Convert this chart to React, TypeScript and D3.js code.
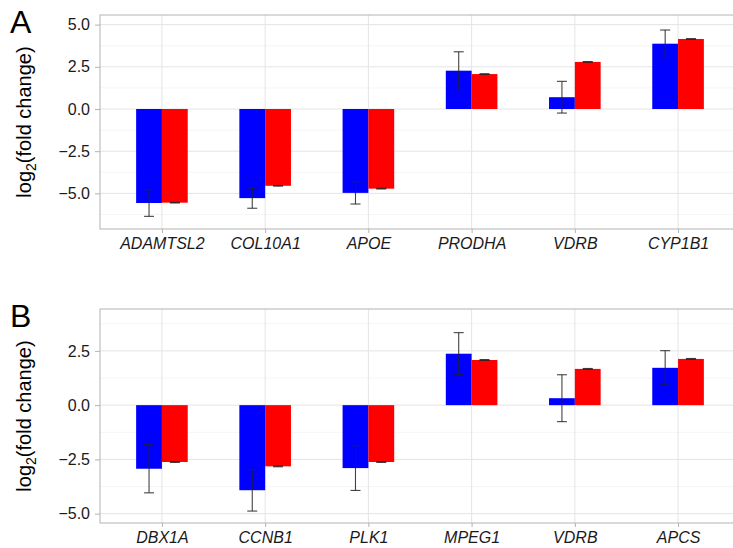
import React, { useEffect, useRef } from 'react';
import * as d3 from 'd3';

// panel A
const genesA = ['ADAMTSL2', 'COL10A1', 'APOE', 'PRODHA', 'VDRB', 'CYP1B1'];
const blueA = [-5.57, -5.28, -4.97, 2.27, 0.7, 3.87];
const blueErrA = [0.79, 0.6, 0.66, 1.12, 0.94, 0.81];
const redA = [-5.55, -4.55, -4.72, 2.07, 2.79, 4.15];
const redErrA = [0.02, 0.02, 0.02, 0.02, 0.02, 0.02];
const ticksA = [-5, -2.5, 0, 2.5, 5];
const minorA = [-6.25, -3.75, -1.25, 1.25, 3.75];

// panel B
const genesB = ['DBX1A', 'CCNB1', 'PLK1', 'MPEG1', 'VDRB', 'APCS'];
const blueB = [-2.93, -3.92, -2.9, 2.37, 0.32, 1.72];
const blueErrB = [1.11, 0.96, 1.03, 0.97, 1.08, 0.79];
const redB = [-2.62, -2.82, -2.62, 2.08, 1.67, 2.13];
const redErrB = [0.02, 0.02, 0.02, 0.02, 0.02, 0.02];
const ticksB = [-5, -2.5, 0, 2.5];
const minorB = [-3.75, -1.25, 1.25, 3.75];

const font = 'Liberation Sans, Arial, Helvetica, sans-serif';

type PanelOpts = {
    label: string; top: number; bottom: number; domain: [number, number];
    genes: string[]; blue: number[]; blueErr: number[]; red: number[]; redErr: number[];
    ticks: number[]; minor: number[];
};

function drawPanel(svg: d3.Selection<SVGSVGElement, unknown, null, undefined>, o: PanelOpts) {
    const left = 100, right = 740;
    const g = svg.append('g');
    const x = d3.scalePoint<string>().domain(o.genes).range([left, right]).padding(0.6);
    const y = d3.scaleLinear().domain(o.domain).range([o.bottom, o.top]);
    const step = x.step();
    const bw = step * 0.25;

    g.append('rect').attr('x', left).attr('y', o.top).attr('width', right - left).attr('height', o.bottom - o.top)
        .attr('fill', '#fff');
    g.selectAll('line.minor').data(o.minor).join('line').attr('class', 'minor')
        .attr('x1', left).attr('x2', right).attr('y1', d => y(d)).attr('y2', d => y(d))
        .attr('stroke', '#f3f3f3').attr('stroke-width', 0.8);
    g.selectAll('line.major').data(o.ticks).join('line').attr('class', 'major')
        .attr('x1', left).attr('x2', right).attr('y1', d => y(d)).attr('y2', d => y(d))
        .attr('stroke', '#e4e4e4').attr('stroke-width', 1);
    g.selectAll('line.vmajor').data(o.genes).join('line').attr('class', 'vmajor')
        .attr('x1', d => x(d)!).attr('x2', d => x(d)!).attr('y1', o.top).attr('y2', o.bottom)
        .attr('stroke', '#e4e4e4').attr('stroke-width', 1);

    const rows = o.genes.map((gname, i) => ({ g: gname, b: o.blue[i], be: o.blueErr[i], r: o.red[i], re: o.redErr[i] }));

    g.selectAll('rect.blue').data(rows).join('rect').attr('class', 'blue')
        .attr('x', d => x(d.g)! - bw).attr('width', bw)
        .attr('y', d => y(Math.max(0, d.b))).attr('height', d => Math.abs(y(d.b) - y(0)))
        .attr('fill', '#0000ff');
    g.selectAll('rect.red').data(rows).join('rect').attr('class', 'red')
        .attr('x', d => x(d.g)!).attr('width', bw)
        .attr('y', d => y(Math.max(0, d.r))).attr('height', d => Math.abs(y(d.r) - y(0)))
        .attr('fill', '#ff0000');

    const errs = rows.flatMap(d => [
        { cx: x(d.g)! - bw / 2, v: d.b, e: d.be },
        { cx: x(d.g)! + bw / 2, v: d.r, e: d.re },
    ]);
    const cap = 5;
    const eg = g.selectAll('g.err').data(errs).join('g').attr('class', 'err')
        .attr('stroke', '#222').attr('stroke-opacity', 0.85).attr('stroke-width', 1.1);
    eg.append('line').attr('x1', d => d.cx).attr('x2', d => d.cx)
        .attr('y1', d => y(d.v + d.e)).attr('y2', d => y(d.v - d.e));
    eg.append('line').attr('x1', d => d.cx - cap).attr('x2', d => d.cx + cap)
        .attr('y1', d => y(d.v + d.e)).attr('y2', d => y(d.v + d.e));
    eg.append('line').attr('x1', d => d.cx - cap).attr('x2', d => d.cx + cap)
        .attr('y1', d => y(d.v - d.e)).attr('y2', d => y(d.v - d.e));

    g.append('rect').attr('x', left).attr('y', o.top).attr('width', right - left).attr('height', o.bottom - o.top)
        .attr('fill', 'none').attr('stroke', '#b3b3b3').attr('stroke-width', 1);

    // y axis
    const ya = g.append('g').attr('transform', `translate(${left},0)`)
        .call(d3.axisLeft(y).tickValues(o.ticks).tickSize(5).tickPadding(5).tickFormat(d3.format('.1f')));
    ya.select('.domain').remove();
    ya.selectAll('line').attr('stroke', '#b3b3b3');
    ya.selectAll('text').attr('font-family', font).attr('font-size', 16).attr('fill', '#1a1a1a');

    // x axis
    const xa = g.append('g').attr('transform', `translate(0,${o.bottom})`)
        .call(d3.axisBottom(x).tickSize(4).tickPadding(5));
    xa.select('.domain').remove();
    xa.selectAll('line').attr('stroke', '#b3b3b3');
    xa.selectAll('text').attr('font-family', font).attr('font-size', 16).attr('font-style', 'italic').attr('fill', '#1a1a1a');

    // axis title
    const cy = (o.top + o.bottom) / 2;
    const t = g.append('text').attr('transform', `translate(31,${cy}) rotate(-90)`)
        .attr('text-anchor', 'middle').attr('font-family', font).attr('font-size', 20).attr('fill', '#000');
    t.append('tspan').text('log');
    t.append('tspan').attr('font-size', 14).attr('dy', 5).text('2');
    t.append('tspan').attr('dy', -5).text('(fold change)');

    g.append('text').attr('x', 10).attr('y', o.top + 18).attr('font-family', font).attr('font-size', 32)
        .attr('fill', '#000').text(o.label);
}

export default function App() {
    const ref = useRef<SVGSVGElement | null>(null);
    useEffect(() => {
        const svg = d3.select(ref.current!);
        svg.selectAll('*').remove();
        drawPanel(svg, {
            label: 'A', top: 15, bottom: 229, domain: [-7.11, 5.57],
            genes: genesA, blue: blueA, blueErr: blueErrA, red: redA, redErr: redErrA,
            ticks: ticksA, minor: minorA,
        });
        drawPanel(svg, {
            label: 'B', top: 309, bottom: 523, domain: [-5.43, 4.43],
            genes: genesB, blue: blueB, blueErr: blueErrB, red: redB, redErr: redErrB,
            ticks: ticksB, minor: minorB,
        });
    }, []);
    return (
        <svg ref={ref} width={733} height={548}
            style={{ position: 'absolute', left: 0, top: 0, background: '#fff' }} />
    );
}
